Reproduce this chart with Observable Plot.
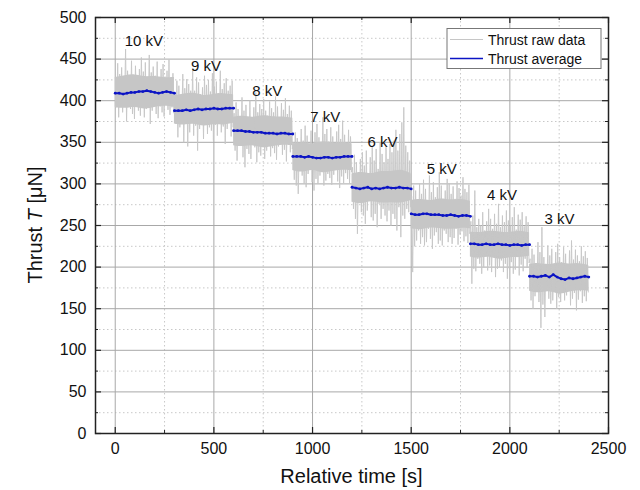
<!DOCTYPE html>
<html><head><meta charset="utf-8">
<script src="https://cdn.jsdelivr.net/npm/d3@7"></script>
<script src="https://cdn.jsdelivr.net/npm/@observablehq/plot@0.6"></script>
<style>
body{margin:0;background:#fff;font-family:"Liberation Sans",Arial,sans-serif}
</style>
</head><body><div id="chart"></div>
<script>
// ---- data ----
const voltages = ["10 kV","9 kV","8 kV","7 kV","6 kV","5 kV","4 kV","3 kV"];
const segStart = [0,300,600,900,1200,1500,1800,2100];
const rawStep = 5;    // raw samples every 5 s
const avgStep = 20;   // average samples every 20 s
const bandStep = 50;  // dense raw-data core, every 50 s

const raw10 = [428,392,445,380,432,398,440,386,425,402,462,375,436,395,420,390,448,384,430,378,
               442,400,427,388,438,382,452,394,435,380,446,390,424,398,455,372,434,388,441,396,
               430,384,447,379,422,393,438,386,444,381,429,397,436,389,450,383,428,392,433,385];
const raw9  = [410,372,424,356,418,368,405,380,432,350,415,376,426,345,420,362,412,374,438,358,
               412,370,428,340,422,366,408,378,416,354,430,372,419,360,425,368,411,364,433,352,
               417,371,423,358,409,375,436,362,414,369,421,348,427,366,412,373,418,357,424,368];
const raw8  = [385,340,398,328,390,346,378,352,404,332,388,320,395,342,380,336,400,330,374,350,
               392,344,410,326,386,338,396,334,390,348,402,330,388,340,382,354,399,333,391,343,
               386,337,405,329,393,345,379,351,397,335,389,341,403,327,384,347,394,338,388,342];
const raw7  = [350,305,362,298,355,288,344,318,366,310,352,300,370,296,358,312,346,320,364,302,
               348,292,362,306,372,300,356,310,342,316,380,298,360,304,366,312,351,307,368,299,
               357,311,345,319,363,303,371,295,354,309,376,301,359,313,349,306,365,300,357,314];
const raw6  = [320,270,335,258,326,240,312,280,330,266,338,262,322,252,340,268,308,284,332,260,
               345,256,328,264,342,248,318,276,350,258,336,270,326,262,344,255,330,268,348,250,
               338,264,352,258,365,244,340,272,360,236,374,262,392,258,346,270,338,266,328,272];
const raw5  = [285,194,298,225,292,232,278,244,300,228,288,236,305,226,294,230,276,246,310,234,
               290,222,302,238,284,242,296,228,314,232,298,226,280,244,292,240,306,230,300,236,
               288,228,297,235,282,246,303,227,295,239,286,243,308,231,294,237,290,229,299,240];
const raw4  = [255,180,262,198,292,195,248,210,258,204,250,192,266,200,244,214,255,196,270,202,
               258,194,246,212,264,188,252,198,276,200,248,208,262,194,254,204,268,186,256,198,
               250,206,260,192,272,197,245,212,263,190,257,203,266,195,249,210,261,199,254,205];
const raw3  = [210,160,222,150,215,165,200,174,230,158,218,127,248,155,212,140,204,172,226,162,
               214,156,222,160,198,176,218,150,228,164,212,158,206,170,224,160,216,166,203,173,
               220,154,232,162,209,169,221,148,214,161,207,171,225,157,213,165,219,159,211,170];

const coreLow10 = [392,390,393,389,392,394,392], coreHigh10 = [428,430,432,428,430,427,428];
const coreLow9  = [372,370,373,368,372,370,373], coreHigh9  = [406,408,410,405,408,409,407];
const coreLow8  = [346,344,347,342,345,347,346], coreHigh8  = [380,382,379,383,380,381,379];
const coreLow7  = [316,313,318,312,315,317,316], coreHigh7  = [348,350,347,352,348,350,348];
const coreLow6  = [278,275,280,276,278,276,280], coreHigh6  = [312,315,311,316,314,318,312];
const coreLow5  = [246,244,248,246,245,247,246], coreHigh5  = [280,282,279,283,280,282,279];
const coreLow4  = [212,210,213,208,212,211,213], coreHigh4  = [242,241,244,242,241,244,241];
const coreLow3  = [171,168,172,166,170,172,171], coreHigh3  = [203,205,202,206,203,205,202];

const avg10 = [409,409,408,409,410,410,411,411,412,411,410,409,410,411,410,409];
const avg9  = [388,388,388,389,388,389,390,389,390,390,391,390,390,391,391,391];
const avg8  = [364,364,364,363,363,362,362,362,361,361,361,360,361,361,360,360];
const avg7  = [333,333,333,332,333,332,331,331,332,332,331,332,332,333,333,333];
const avg6  = [296,295,294,295,296,294,295,294,295,296,295,295,296,295,295,294];
const avg5  = [264,263,263,264,264,263,263,263,262,262,263,262,261,262,262,261];
const avg4  = [228,228,227,227,228,227,227,228,227,227,226,227,227,226,227,227];
const avg3  = [189,189,188,189,190,188,191,188,186,185,187,186,187,188,189,188];

const labelX = [145,460,770,1065,1355,1655,1960,2252];
const labelY = [472,442,411,380,350,318,286,257];

const xMajor = [0,500,1000,1500,2000,2500];
const xMinor = [250,750,1250,1750,2250];
const yMajor = [0,50,100,150,200,250,300,350,400,450,500];
const yMinor = [25,75,125,175,225,275,325,375,425,475];

// ---- tables built from the arrays ----
const rawSeries = [raw10,raw9,raw8,raw7,raw6,raw5,raw4,raw3];
const lowSeries = [coreLow10,coreLow9,coreLow8,coreLow7,coreLow6,coreLow5,coreLow4,coreLow3];
const highSeries = [coreHigh10,coreHigh9,coreHigh8,coreHigh7,coreHigh6,coreHigh5,coreHigh4,coreHigh3];
const avgSeries = [avg10,avg9,avg8,avg7,avg6,avg5,avg4,avg3];
const raw = [];
rawSeries.forEach((vals, s) => vals.forEach((v, i) => raw.push({t: segStart[s] + rawStep/2 + i*rawStep, v})));
const core = [];
lowSeries.forEach((vals, s) => vals.forEach((v, i) => core.push({t: segStart[s] + i*bandStep, lo: v, hi: highSeries[s][i], seg: s})));
const avg = [];
avgSeries.forEach((vals, s) => vals.forEach((v, i) => avg.push({t: segStart[s] + i*avgStep, v, seg: s})));
const labels = voltages.map((name, i) => ({name, x: labelX[i], y: labelY[i]}));

const W = 640, H = 490, mL = 95, mR = 32, mT = 17, mB = 57;
const pw = W - mL - mR, ph = H - mT - mB;
const GRAY = "#c6c6c6", BLUE = "#0c14c4";

const chart = Plot.plot({
  width: W, height: H,
  marginLeft: mL, marginRight: mR, marginTop: mT, marginBottom: mB,
  style: {fontFamily: '"Liberation Sans", Arial, sans-serif', fontSize: "16px", color: "#222", background: "#fff"},
  x: {domain: [-100, 2500]},
  y: {domain: [0, 500]},
  marks: [
    Plot.ruleX(xMinor, {stroke: "#c8c8c8", strokeDasharray: "1.5,2.5", strokeWidth: 1}),
    Plot.ruleY(yMinor, {stroke: "#c8c8c8", strokeDasharray: "1.5,2.5", strokeWidth: 1}),
    Plot.ruleX(xMajor, {stroke: "#a8a8a8", strokeWidth: 1}),
    Plot.ruleY(yMajor, {stroke: "#a8a8a8", strokeWidth: 1}),
    Plot.areaY(core, {x: "t", y1: "lo", y2: "hi", z: "seg", fill: GRAY, curve: "basis"}),
    Plot.line(raw, {x: "t", y: "v", stroke: GRAY, strokeWidth: 0.9}),
    Plot.line(avg, {x: "t", y: "v", z: "seg", stroke: BLUE, strokeWidth: 2}),
    Plot.dot(avg, {x: "t", y: "v", r: 1.4, fill: BLUE}),
    Plot.text(labels, {x: "x", y: "y", text: "name", fontSize: 15, fill: "#111"}),
    // inward ticks
    Plot.ruleX(xMajor, {stroke: "#222", strokeWidth: 1.2, insetTop: ph - 6}),
    Plot.ruleX(xMajor, {stroke: "#222", strokeWidth: 1.2, insetBottom: ph - 6}),
    Plot.ruleX(xMinor, {stroke: "#222", strokeWidth: 1, insetTop: ph - 3}),
    Plot.ruleX(xMinor, {stroke: "#222", strokeWidth: 1, insetBottom: ph - 3}),
    Plot.ruleY(yMajor, {stroke: "#222", strokeWidth: 1.2, insetRight: pw - 6}),
    Plot.ruleY(yMajor, {stroke: "#222", strokeWidth: 1.2, insetLeft: pw - 6}),
    Plot.ruleY(yMinor, {stroke: "#222", strokeWidth: 1, insetRight: pw - 3}),
    Plot.ruleY(yMinor, {stroke: "#222", strokeWidth: 1, insetLeft: pw - 3}),
    Plot.frame({stroke: "#222", strokeWidth: 1.5}),
    Plot.axisX({ticks: xMajor, tickFormat: d3.format("d"), tickSize: 0, tickPadding: 9, label: null, fill: "#111"}),
    Plot.axisY({ticks: yMajor, tickFormat: d3.format("d"), tickSize: 0, tickPadding: 9, label: null, fill: "#111"})
  ]
});

const svg = d3.select(chart);
// axis titles
svg.append("text")
  .attr("x", mL + pw/2).attr("y", H - 7)
  .attr("text-anchor", "middle")
  .style("font-size", "20px").attr("fill", "#111")
  .text("Relative time [s]");
const yt = svg.append("text")
  .attr("transform", `translate(42,${mT + ph/2}) rotate(-90)`)
  .attr("text-anchor", "middle")
  .style("font-size", "20px").attr("fill", "#111");
yt.append("tspan").text("Thrust ");
yt.append("tspan").style("font-style", "italic").text("T");
yt.append("tspan").text(" [μN]");

// legend
const lg = svg.append("g");
lg.append("rect").attr("x", 447).attr("y", 28.5).attr("width", 154).attr("height", 40)
  .attr("fill", "#fff").attr("stroke", "#777").attr("stroke-width", 1);
lg.append("line").attr("x1", 450).attr("x2", 483).attr("y1", 39.5).attr("y2", 39.5)
  .attr("stroke", GRAY).attr("stroke-width", 1.2);
lg.append("line").attr("x1", 450).attr("x2", 483).attr("y1", 58.5).attr("y2", 58.5)
  .attr("stroke", BLUE).attr("stroke-width", 1.6);
lg.append("text").attr("x", 488).attr("y", 45).attr("text-anchor", "start")
  .style("font-size", "14px").attr("fill", "#111").text("Thrust raw data");
lg.append("text").attr("x", 488).attr("y", 64).attr("text-anchor", "start")
  .style("font-size", "14px").attr("fill", "#111").text("Thrust average");

document.getElementById("chart").appendChild(chart);
</script>
</body></html>
